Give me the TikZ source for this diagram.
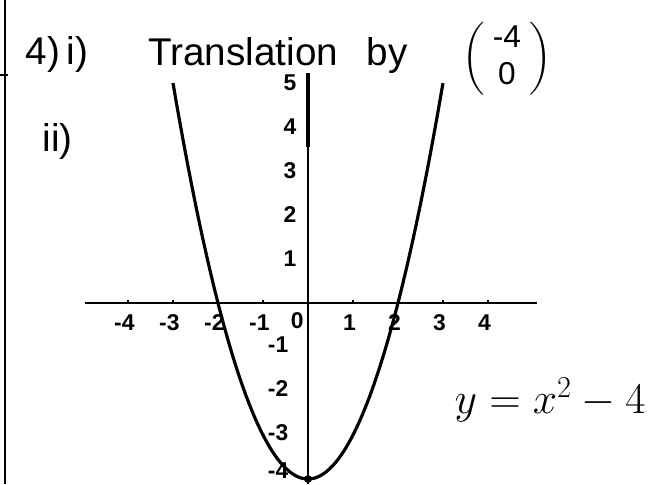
\documentclass[tikz,border=0pt]{standalone}
\usepackage{amsmath}
\usepackage{fontspec}
\setmainfont{Liberation Sans}
\begin{document}
\begin{tikzpicture}[x=0.9cm,y=0.88cm,
		hand/.style={font=\fontsize{22}{26}\selectfont},
		small/.style={font=\fontsize{13}{15}\selectfont\bfseries}]
			\useasboundingbox (-6.844,-4.114) rectangle (7.867,6.886);

			% Margin line
			\draw[line width=1.2pt] (-6.73,-4.114) -- (-6.73,6.886);
			\draw[line width=0.8pt] (-6.844,5.18) -- (-6.667,5.18);

			% Question text
			\node[hand] (qnum) at (-5.58,5.64) {4)\,i)};
			\node[hand] (part) at (-5.56,3.66) {ii)};
			\node[hand] (trans) at (-1.44,5.72) {Translation};
			\node[hand] (by) at (1.76,5.62) {by};
			\node[font=\fontsize{18}{21}\selectfont,inner sep=0pt] (vec) at (4.42,5.55)
				{$\left(\;\begin{matrix}\text{-4}\\\text{0}\end{matrix}\;\right)$};

			% Draw axes
			\draw[line width=1pt] (-4.96,0) -- (5.09,0);
			\draw[line width=1pt] (0,5.23) -- (0,-4.114);
			\draw[line width=2.2pt] (0,5.23) -- (0,3.55);

			% Ticks and labels
			\foreach \x in {-4,-3,-2,-1,1,2,3,4}
				\draw[line width=0.8pt] (\x,0) -- (\x,0.07);
			\foreach \x in {-4,-3,-2,-1,1,2,3,4}
				\node[small] (x\x) at (\x-0.08,-0.45) {\x};
			\node[small] (x0) at (-0.24,-0.4) {0};
			\foreach \y in {1,...,5}
				\node[small,anchor=east] (y\y) at (-0.12,\y) {\y};
			\foreach \y in {-1,-2,-3}
				\node[small,anchor=east] (y\y) at (-0.3,\y+0.05) {\y};
			\node[small,anchor=east] (y-4) at (-0.3,-3.8) {-4};

			% Draw parabola
			\draw[line width=1.8pt] plot[domain=-3:3,samples=60,smooth] (\x,{\x*\x-4});
			\fill (0,-4) circle (0.09);

			% Equation
			\node[font=\fontsize{25}{30}\selectfont] (eq) at (5.38,-2.2) {$y = x^2 - 4$};
		\end{tikzpicture}
\end{document}
